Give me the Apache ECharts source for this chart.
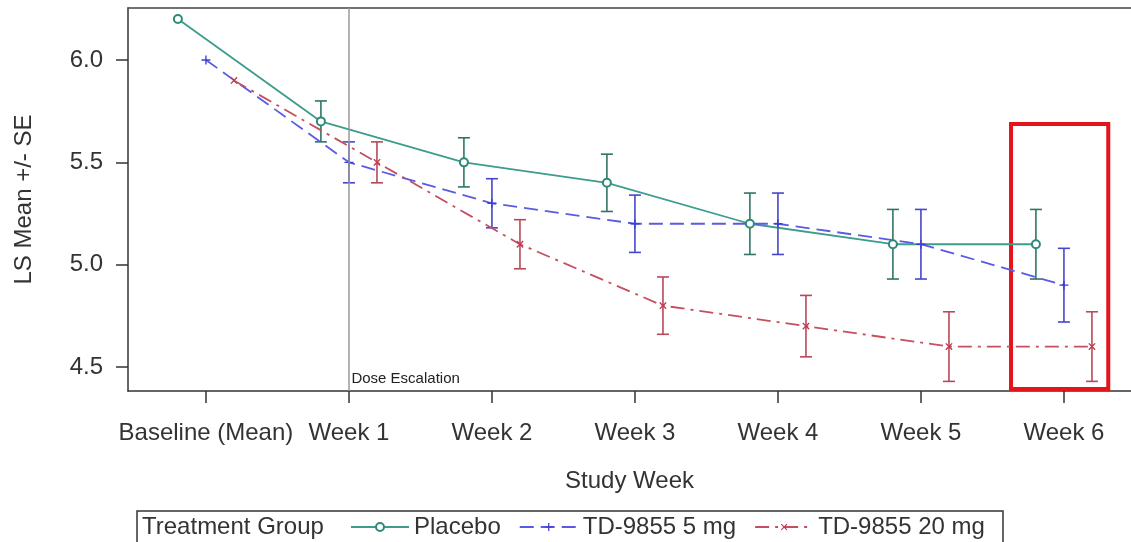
<!DOCTYPE html>
<html><head><meta charset="utf-8">
<script src="https://cdn.jsdelivr.net/npm/echarts@6/dist/echarts.min.js"></script>
<style>html,body{margin:0;padding:0;background:#fff}#c{width:1131px;height:542px}</style>
</head><body><div id="c"></div>
<script>
// ---- data ----
const categories = ['Baseline (Mean)', 'Week 1', 'Week 2', 'Week 3', 'Week 4', 'Week 5', 'Week 6'];
const seriesNames = ['Placebo', 'TD-9855 5 mg', 'TD-9855 20 mg'];
const placeboMean  = [6.2, 5.7, 5.5, 5.4, 5.2, 5.1, 5.1];
const placeboLower = [null, 5.6, 5.38, 5.26, 5.05, 4.93, 4.93];
const placeboUpper = [null, 5.8, 5.62, 5.54, 5.35, 5.27, 5.27];
const mg5Mean  = [6.0, 5.5, 5.3, 5.2, 5.2, 5.1, 4.9];
const mg5Lower = [null, 5.4, 5.18, 5.06, 5.05, 4.93, 4.72];
const mg5Upper = [null, 5.6, 5.42, 5.34, 5.35, 5.27, 5.08];
const mg20Mean  = [5.9, 5.5, 5.1, 4.8, 4.7, 4.6, 4.6];
const mg20Lower = [null, 5.4, 4.98, 4.66, 4.55, 4.43, 4.43];
const mg20Upper = [null, 5.6, 5.22, 4.94, 4.85, 4.77, 4.77];
const yTicks = [4.5, 5.0, 5.5, 6.0];
const xTicks = [0, 1, 2, 3, 4, 5, 6];
const doseEscalationWeek = 1;
const highlightX = [5.63, 6.31];
const highlightY = [4.393, 5.687];

// ---- helpers ----
const DODGE = 0.196;
const FONT = 'Liberation Sans, Arial, Helvetica, sans-serif';
const TXT = '#333';
function pts(mean, off) { return mean.map((v, i) => [i + off, v]); }
function bars(lo, hi, off) {
  const out = [];
  lo.forEach((l, i) => { if (l != null) out.push([i + off, l, hi[i]]); });
  return out;
}
function errRender(color) {
  return function (params, api) {
    const x = api.value(0), lo = api.value(1), hi = api.value(2);
    const p1 = api.coord([x, lo]), p2 = api.coord([x, hi]);
    const w = 6;
    const st = { stroke: color, lineWidth: 1.6 };
    return { type: 'group', children: [
      { type: 'line', shape: { x1: p1[0], y1: p1[1], x2: p2[0], y2: p2[1] }, style: st },
      { type: 'line', shape: { x1: p1[0] - w, y1: p1[1], x2: p1[0] + w, y2: p1[1] }, style: st },
      { type: 'line', shape: { x1: p2[0] - w, y1: p2[1], x2: p2[0] + w, y2: p2[1] }, style: st }
    ]};
  };
}
const PLUS = 'path://M3.4,0H4.6V3.4H8V4.6H4.6V8H3.4V4.6H0V3.4H3.4Z';

const XMIN = -0.545, XMAX = 6.469, YMIN = 4.383, YMAX = 6.254;

const chart = echarts.init(document.getElementById('c'), null, { renderer: 'canvas' });
chart.setOption({
  animation: false,
  backgroundColor: '#fff',
  textStyle: { fontFamily: FONT, color: TXT },
  grid: { left: 128, right: 0, top: 8, bottom: 151, show: false },
  xAxis: [{
    type: 'value', min: XMIN, max: XMAX,
    name: 'Study Week', nameLocation: 'middle', nameGap: 78,
    nameTextStyle: { fontSize: 24, color: TXT, fontFamily: FONT },
    axisLine: { show: true, lineStyle: { color: '#333', width: 1.5 } },
    axisTick: { show: true, customValues: xTicks, length: 12, lineStyle: { color: '#333', width: 1.5 } },
    axisLabel: { show: true, customValues: xTicks, margin: 30, fontSize: 24, color: TXT, fontFamily: FONT,
      formatter: v => categories[Math.round(v)] },
    splitLine: { show: false }
  }, {
    type: 'value', min: XMIN, max: XMAX, position: 'top',
    axisLine: { show: true, onZero: false, lineStyle: { color: '#444', width: 1.5 } },
    axisTick: { show: false }, axisLabel: { show: false }, splitLine: { show: false }
  }],
  yAxis: {
    type: 'value', min: YMIN, max: YMAX,
    name: 'LS Mean +/- SE', nameLocation: 'middle', nameGap: 92, nameRotate: 90,
    nameTextStyle: { fontSize: 24, color: TXT, fontFamily: FONT },
    axisLine: { show: true, onZero: false, lineStyle: { color: '#333', width: 1.5 } },
    axisTick: { show: true, customValues: yTicks, length: 12, lineStyle: { color: '#333', width: 1.5 } },
    axisLabel: { show: true, customValues: yTicks, margin: 25, fontSize: 24, color: TXT, fontFamily: FONT,
      formatter: v => v.toFixed(1) },
    splitLine: { show: false }
  },
  legend: {
    data: seriesNames, left: 350, top: 515, padding: 0,
    itemWidth: 58, itemHeight: 10, itemGap: 18,
    textStyle: { fontSize: 24, color: TXT, fontFamily: FONT }
  },
  graphic: [
    { type: 'rect', shape: { x: 137, y: 511, width: 866, height: 32 },
      style: { fill: 'none', stroke: '#333', lineWidth: 1.5 }, silent: true },
    { type: 'text', x: 142, y: 527,
      style: { text: 'Treatment Group', fontSize: 24, fill: TXT, font: '24px ' + FONT, textVerticalAlign: 'middle', verticalAlign: 'middle' },
      silent: true }
  ],
  series: [
    { type: 'custom', name: 'Placebo SE', renderItem: errRender('#2f7566'), data: bars(placeboLower, placeboUpper, -DODGE),
      encode: { x: 0, y: [1, 2] }, z: 2, silent: true },
    { type: 'custom', name: '5 mg SE', renderItem: errRender('#4646cc'), data: bars(mg5Lower, mg5Upper, 0),
      encode: { x: 0, y: [1, 2] }, z: 2, silent: true },
    { type: 'custom', name: '20 mg SE', renderItem: errRender('#b9485a'), data: bars(mg20Lower, mg20Upper, DODGE),
      encode: { x: 0, y: [1, 2] }, z: 2, silent: true },
    {
      type: 'line', name: seriesNames[0], data: pts(placeboMean, -DODGE), z: 3,
      symbol: 'emptyCircle', symbolSize: 8,
      itemStyle: { color: '#2e8a78', borderWidth: 2 },
      lineStyle: { color: '#3d9c8b', width: 1.8, type: 'solid' },
      markLine: {
        silent: true, symbol: ['none', 'none'], label: { show: false },
        lineStyle: { color: '#9a9a9a', width: 1.5, type: 'solid' },
        data: [{ xAxis: doseEscalationWeek }]
      },
      markPoint: {
        silent: true,
        data: [{ coord: [doseEscalationWeek, YMIN], symbol: 'rect', symbolSize: 1,
          itemStyle: { color: 'rgba(0,0,0,0)' },
          label: { show: true, formatter: 'Dose Escalation', position: [3, -19], align: 'left', verticalAlign: 'top',
            fontSize: 15, color: '#222', fontFamily: FONT } }]
      }
    },
    {
      type: 'line', name: seriesNames[1], data: pts(mg5Mean, 0), z: 3,
      symbol: PLUS, symbolSize: 9,
      itemStyle: { color: '#3c3cd6' },
      lineStyle: { color: '#5a5ae4', width: 1.8, type: [14, 7] }
    },
    {
      type: 'line', name: seriesNames[2], data: pts(mg20Mean, DODGE), z: 3,
      symbol: PLUS, symbolSize: 9, symbolRotate: 45,
      itemStyle: { color: '#c03a50' },
      lineStyle: { color: '#c4505f', width: 1.8, type: [14, 6, 3, 6] },
      markArea: {
        silent: true,
        itemStyle: { color: 'rgba(0,0,0,0)', borderColor: '#e5141b', borderWidth: 4 },
        data: [[{ coord: [highlightX[0], highlightY[1]] }, { coord: [highlightX[1], highlightY[0]] }]]
      }
    }
  ]
});
</script></body></html>
